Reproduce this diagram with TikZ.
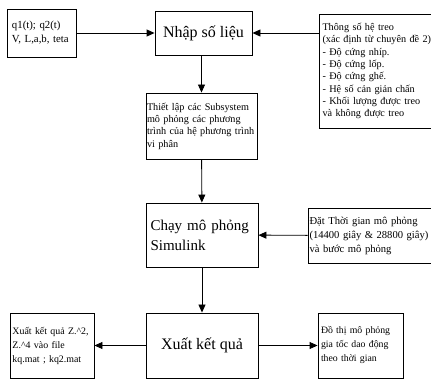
\documentclass[tikz,border=0pt]{standalone}
\usepackage{fontspec}
\setmainfont{Liberation Serif}
\usetikzlibrary{arrows.meta}
\usetikzlibrary{shadows}

\tikzset{
    box/.style={draw, line width=0.9pt, inner sep=0pt, align=left, fill=white},
    bigtext/.style={font=\fontsize{16}{20}\selectfont},
    smalltext/.style={font=\fontsize{10.2}{12.3}\selectfont},
    shadowbox/.style={drop shadow={shadow xshift=1pt, shadow yshift=-1pt, fill=black!70, opacity=1}},
    flow/.style={-{Triangle[length=8pt,width=7pt]}, line width=0.9pt},
}

\begin{document}
\begin{tikzpicture}[x=1pt, y=-1pt]

    \path[use as bounding box, clip] (0,0) rectangle (431,379);

    \node[box, font=\fontsize{10.8}{14}\selectfont, minimum width=69pt, minimum height=48pt,
    text width=59pt] (input) at (41.5,33) {q1(t); q2(t)\\V, L,a,b, teta};
    \node[box, bigtext, minimum width=97pt, minimum height=44pt, align=center]
    (nhap) at (203.5,33) {Nhập số liệu};
    \node[box, smalltext, shadowbox, minimum width=126pt, minimum height=114pt,
    text width=119pt] (thongso) at (382,71) {Thông số hệ treo\\(xác định từ chuyên đề 2)\\
    - Độ cứng nhíp.\\- Độ cứng lốp.\\- Độ cứng ghế.\\- Hệ số cản giản chấn\\
    - Khối lượng được treo\\và không được treo};
    \node[box, smalltext, minimum width=111pt, minimum height=66pt, text width=109pt]
    (sub) at (201.5,126) {Thiết lập các Subsystem\\mô phỏng các phương\\
    trình của hệ phương trình\\vi phân};
    \node[box, font=\fontsize{15}{20}\selectfont, minimum width=112pt, minimum height=64pt,
    text width=103pt] (run) at (202,235) {Chạy mô phỏng\\Simulink};
    \node[box, font=\fontsize{10.6}{14}\selectfont, shadowbox, minimum width=132pt,
    minimum height=55pt, text width=129pt] (time) at (374,235.5) {Đặt Thời gian mô phỏng\\
    (14400 giây \& 28800 giây)\\và bước mô phỏng};
    \node[box, bigtext, minimum width=112pt, minimum height=65pt, align=center]
    (out) at (202,345.5) {Xuất kết quả};
    \node[box, font=\fontsize{9.9}{14}\selectfont, minimum width=84pt, minimum height=65pt,
    text width=79pt] (save) at (52,345.5) {Xuất kết quả Z.\^{}2,\\Z.\^{}4 vào file\\
    kq.mat ; kq2.mat};
    \node[box, font=\fontsize{9.8}{14}\selectfont, minimum width=85pt, minimum height=65pt,
    text width=79pt] (plot) at (360.5,345.5) {Đồ thị mô phỏng\\gia tốc dao động\\
    theo thời gian};

    \draw[flow] (input) -- (nhap);
    \draw[flow] (thongso.west |- nhap) -- (nhap);
    \draw[flow] (nhap.south -| sub) -- (sub);
    \draw[flow] (sub) -- (run);
    \draw[flow] (run) -- (out);
    \draw[flow] (time) -- (run);
    \draw[flow] (out) -- (save);
    \draw[flow] (out) -- (plot);
\end{tikzpicture}
\end{document}
